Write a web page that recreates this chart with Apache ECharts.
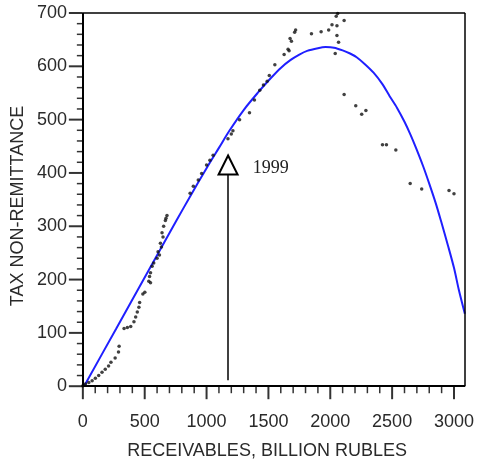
<!DOCTYPE html>
<html>
<head>
<meta charset="utf-8">
<script src="https://cdn.jsdelivr.net/npm/echarts@6/dist/echarts.min.js"></script>
<style>
  html, body { margin: 0; padding: 0; background: #fff; }
  #chart { width: 477px; height: 465px; }
</style>
</head>
<body>
<div id="chart"></div>
<script>
// observed points: [receivables, tax non-remittance]
var obsPoints = [
  [0,1],[21,4],[48,7],[75,10],[101,15],[128,20],[155,26],[181,32],[208,38],[227,45],
  [261,53],[288,64],[293,75],[333,108],[360,110],[387,112],[413,121],[427,130],[440,139],[453,148],
  [459,157],[485,173],[501,176],[533,197],[539,206],[547,194],[547,213],[560,225],[573,231],[600,240],
  [608,252],[619,246],[627,268],[635,261],[640,288],[648,280],[653,300],[667,311],[672,315],[680,320],
  [867,362],[893,375],[933,387],[960,399],[1000,415],[1027,424],[1053,433],[1173,464],[1200,473],[1213,479],
  [1267,500],[1347,513],[1387,537],[1430,555],[1460,565],[1490,572],[1507,583],[1552,603],[1627,622],[1659,632],
  [1667,629],[1675,652],[1686,647],[1712,664],[1720,668],[1848,661],[1926,665],[1987,668],[2014,678],[2048,694],
  [2060,699],[2054,676],[2054,658],[2067,645],[2040,624],[2112,686],
  [2112,547],[2206,526],[2254,510],[2288,517],[2422,453],[2454,453],[2530,443],[2646,380],[2739,370],
  [2960,367],[3000,361]
];

// fitted curve
var fitCurve = [
  [10,0],[267,107],[512,209],[760,312],[867,356],[1000,409],[1100,447],[1187,480],[1300,518],
  [1413,550],[1520,578],[1600,597],[1680,612],[1750,622],[1813,629],[1900,634],[1962,636],
  [2030,635],[2100,630],[2160,624],[2213,617],[2280,604],[2350,588],[2420,567],[2480,544],
  [2540,522],[2600,496],[2650,471],[2693,447],[2750,413],[2800,380],[2853,343],[2900,306],
  [2950,265],[3000,222],[3040,180],[3088,136]
];

var xMajor = [0, 500, 1000, 1500, 2000, 2500, 3000];
var yMajor = [0, 100, 200, 300, 400, 500, 600, 700];
var xMinorStep = 100;
var yMinorStep = 20;

// plot range; the room below 0 / left of 0 holds the outward ticks
var xMin = -112, xMax = 3090;
var yMin = -24, yMax = 700;

// arrow marking 1999
var arrowFrom = [1174, 11];
var arrowTo = [1174, 415];
var arrowLabel = '1999';
var arrowLabelAt = [1374, 408];

// axis lines and frame as segments in data units
function seg(a, b, width) {
  return [{ coord: a, lineStyle: { width: width } }, { coord: b, lineStyle: { width: width } }];
}
var frameLines = [
  seg([0, 0], [xMax, 0], 2),
  seg([0, 0], [0, yMax], 2),
  seg([0, yMax], [xMax, yMax], 1.5),
  seg([xMax, 0], [xMax, yMax], 1.5)
];

// tick positions on the axes
var xMajorTicks = xMajor.map(function (v) { return [v, 0]; });
var yMajorTicks = yMajor.map(function (v) { return [0, v]; });
var xMinorTicks = [];
var yMinorTicks = [];
for (var v = xMinorStep; v <= 3000; v += xMinorStep) {
  if (v % 500 != 0) xMinorTicks.push([v, 0]);
}
for (var w = yMinorStep; w < 700; w += yMinorStep) {
  if (w % 100 != 0) yMinorTicks.push([0, w]);
}

function tickSeries(data, size, offset) {
  return {
    type: 'scatter',
    data: data,
    symbol: 'rect',
    symbolSize: size,
    symbolOffset: offset,
    itemStyle: { color: '#000' },
    silent: true,
    clip: false,
    z: 4
  };
}

var chart = echarts.init(document.getElementById('chart'));

var txt = { color: '#2a2a2a', fontFamily: 'Liberation Sans', fontSize: 18 };

function plain(v) { return String(v); }

var option = {
  animation: false,
  grid: { left: 69, right: 8, top: 13, bottom: 58, show: false },
  xAxis: {
    type: 'value', position: 'bottom',
    min: xMin, max: xMax,
    name: 'RECEIVABLES, BILLION RUBLES',
    nameLocation: 'middle', nameGap: 43, nameMoveOverlap: false,
    nameTextStyle: txt,
    axisLine: { show: false, onZero: false },
    axisTick: { show: false },
    axisLabel: Object.assign({ margin: 14, customValues: xMajor, formatter: plain }, txt),
    splitLine: { show: false }
  },
  yAxis: {
    type: 'value', position: 'left',
    min: yMin, max: yMax,
    name: 'TAX NON-REMITTANCE',
    nameLocation: 'middle', nameGap: 42, nameMoveOverlap: false,
    nameTextStyle: txt,
    axisLine: { show: false, onZero: false },
    axisTick: { show: false },
    axisLabel: Object.assign({ margin: 2, customValues: yMajor, formatter: plain }, txt),
    splitLine: { show: false }
  },
  series: [{
    type: 'line',
    data: fitCurve,
    smooth: 0.3,
    showSymbol: false,
    clip: false,
    lineStyle: { color: '#1f1fff', width: 2 },
    z: 2,
    markLine: {
      silent: true,
      symbol: ['none', 'none'],
      lineStyle: { color: '#000', width: 2, type: 'solid' },
      label: { show: false },
      data: frameLines
    }
  }, {
    type: 'scatter',
    data: obsPoints,
    symbolSize: 3.5,
    itemStyle: { color: '#111' },
    z: 3,
    markLine: {
      silent: true,
      symbol: ['none', 'emptyTriangle'],
      symbolSize: 19,
      lineStyle: { color: '#000', width: 1.5, type: 'solid' },
      label: { show: false },
      data: [[{ coord: arrowFrom }, { coord: arrowTo }]]
    },
    markPoint: {
      silent: true,
      symbol: 'circle',
      symbolSize: 0,
      label: {
        show: true, position: 'right', distance: 0,
        color: '#222', fontFamily: 'Liberation Serif', fontSize: 18,
        formatter: arrowLabel
      },
      data: [{ coord: arrowLabelAt }]
    }
  },
  tickSeries(xMajorTicks, [2, 13], [0, 6.5]),
  tickSeries(xMinorTicks, [1.5, 7], [0, 3.5]),
  tickSeries(yMajorTicks, [14, 2], [-7, 0]),
  tickSeries(yMinorTicks, [6, 1.5], [-3, 0])
  ]
};

chart.setOption(option);
</script>
</body>
</html>
